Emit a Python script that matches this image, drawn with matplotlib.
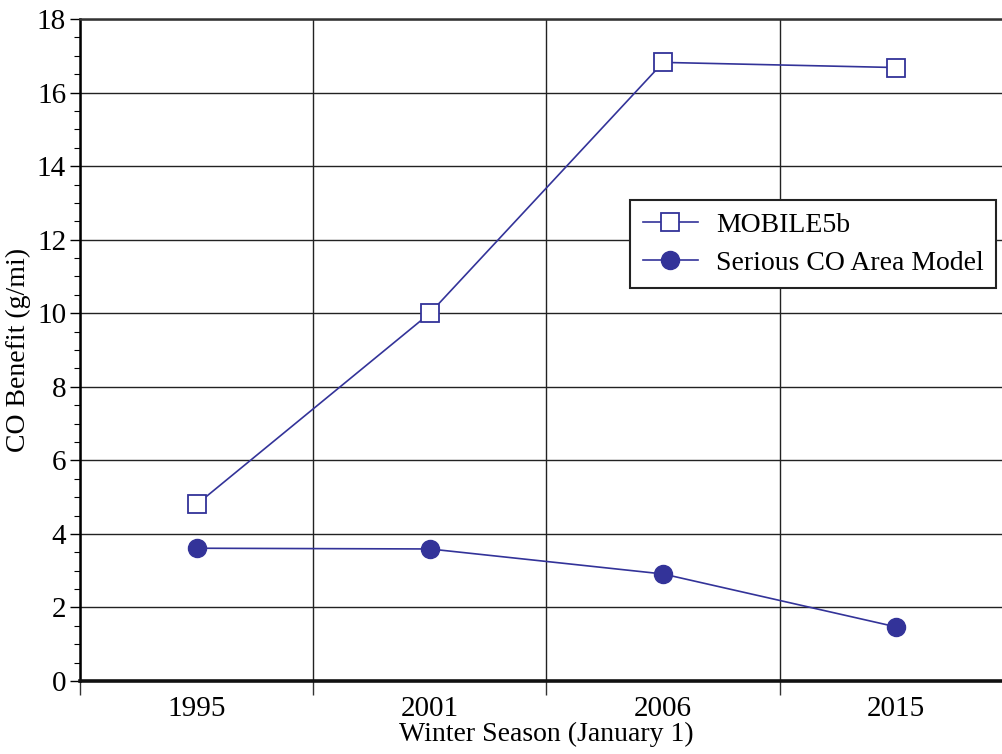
import matplotlib
matplotlib.use("Agg")
import matplotlib.pyplot as plt
from matplotlib.ticker import MultipleLocator, FixedLocator

seasons = ["1995", "2001", "2006", "2015"]
mobile5b = [4.8, 10.0, 16.82, 16.68]
serious_co = [3.61, 3.59, 2.91, 1.47]

plt.rcParams["font.family"] = ["Liberation Serif", "DejaVu Serif"]
navy = "#333399"

fig = plt.figure(figsize=(10.03, 7.54), dpi=100)
# plot area runs past the right edge of the canvas
ax = fig.add_axes([80 / 1003, (754 - 681) / 754, 933 / 1003, 662 / 754])

x = list(range(len(seasons)))
ax.plot(x, mobile5b, color=navy, lw=1.2, marker="s", ms=12.5, mfc="white",
        mec=navy, mew=1.3, label="MOBILE5b", zorder=3)
ax.plot(x, serious_co, color=navy, lw=1.2, marker="o", ms=13, mfc=navy,
        mec=navy, label="Serious CO Area Model", zorder=3)

ax.set_xlim(-0.5, 3.5)
ax.set_ylim(0, 18)

ax.yaxis.set_major_locator(MultipleLocator(2))
ax.yaxis.set_minor_locator(MultipleLocator(0.5))
ax.xaxis.set_major_locator(FixedLocator([-0.5, 0.5, 1.5, 2.5]))
ax.xaxis.set_minor_locator(FixedLocator(x))
ax.set_xticklabels([])
ax.set_xticks(x, labels=seasons, minor=True)

ax.tick_params(axis="x", which="major", direction="out", length=10, width=1, color="#333333")
ax.tick_params(axis="x", which="minor", length=0, labelsize=21, pad=11)
ax.tick_params(axis="y", which="major", direction="out", length=7, width=1, labelsize=21, pad=3)
ax.tick_params(axis="y", which="minor", direction="out", length=4, width=0.8)

ax.grid(True, which="major", axis="both", color="#222222", lw=1.0)
ax.set_axisbelow(True)

for side in ["top", "right"]:
    ax.spines[side].set_linewidth(1.8)
    ax.spines[side].set_color("#333333")
ax.spines["left"].set_linewidth(1.8)
ax.spines["bottom"].set_linewidth(2.6)
ax.spines["bottom"].set_color("#111111")

ax.set_xlabel("Winter Season (January 1)", fontsize=20, labelpad=0)
ax.set_ylabel("CO Benefit (g/mi)", fontsize=20, labelpad=4)

leg = ax.legend(loc="upper left", bbox_to_anchor=(0.5895, 0.7266), fontsize=20,
                frameon=True, fancybox=False, framealpha=1, edgecolor="#222222",
                handlelength=2.0, handletextpad=0.65, borderpad=0.45,
                labelspacing=0.45, borderaxespad=0)
leg.get_frame().set_linewidth(1.5)

fig.savefig("out.png", dpi=100)
